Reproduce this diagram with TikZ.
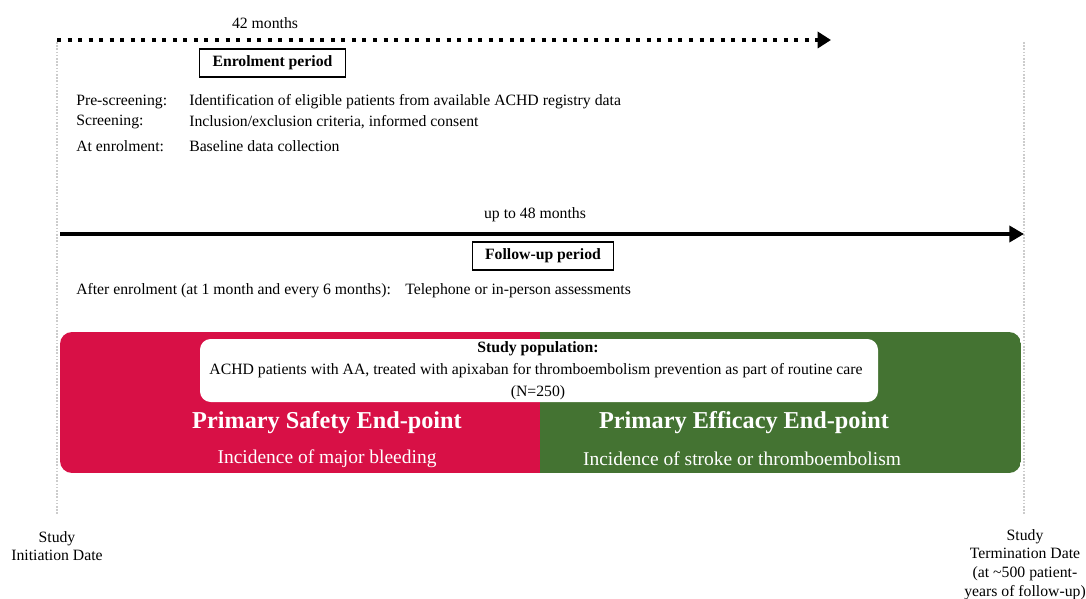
\documentclass[tikz,border=0pt]{standalone}
\usepackage{fontspec}
\setmainfont{Liberation Serif}
\usetikzlibrary{arrows.meta,positioning}

\definecolor{safetyred}{HTML}{D81046}
\definecolor{efficacygreen}{HTML}{447332}

\tikzset{
  body/.style={inner sep=0pt, font=\fontsize{11.8}{13.9}\selectfont},
  leftlbl/.style={body, anchor=west},
  periodbox/.style={draw, line width=0.8pt, inner xsep=9.5pt, minimum height=21pt,
    font=\fontsize{11.8}{13.9}\selectfont\bfseries},
  endtitle/.style={inner sep=0pt, text=white, font=\fontsize{18.2}{21}\selectfont\bfseries},
  endtext/.style={inner sep=0pt, text=white, font=\fontsize{14.6}{17}\selectfont},
  datelbl/.style={body, align=center},
  guide/.style={gray!40, line width=1.6pt, dash pattern=on 1.2pt off 1.2pt},
}

\begin{document}
\begin{tikzpicture}[x=0.75pt, y=-0.75pt]
        \useasboundingbox (0,0) rectangle (1086,599);

        % senkrechte Hilfslinien
        \draw[guide] (57,42) -- (57,515);
        \draw[guide] (1024,42) -- (1024,515);

        % Einschlussphase
        \coordinate (enrolstart) at (57,40);
        \coordinate (enrolend) at (831,40);
        \draw[line width=3pt, dash pattern=on 3pt off 4.9pt,
              -{Triangle[length=10pt,width=12pt]}] (enrolstart) -- (enrolend);
        \node[body] (enrolmonths) at (265,23) {42 months};
        \node[periodbox] (enrolbox) at (272.5,63) {Enrolment period};

        \node[leftlbl] (prescr) at (76,102) {Pre-screening:};
        \node[leftlbl] (scr) at (76,122) {Screening:};
        \node[leftlbl] (atenrol) at (76,146) {At enrolment:};
        \node[leftlbl] (prescrtxt) at (189,102) {Identification of eligible patients from available ACHD registry data};
        \node[leftlbl] (scrtxt) at (189,122) {Inclusion/exclusion criteria, informed consent};
        \node[leftlbl] (atenroltxt) at (189,146) {Baseline data collection};

        % Nachbeobachtung
        \coordinate (followstart) at (60,234);
        \coordinate (followend) at (1024,234);
        \draw[line width=3pt, -{Triangle[length=11pt,width=12pt]}] (followstart) -- (followend);
        \node[body] (followmonths) at (535,215) {up to 48 months};
        \node[periodbox] (followbox) at (543,256) {Follow-up period};
        \node[leftlbl] (after) at (76,291) {After enrolment (at 1 month and every 6 months):};
        \node[leftlbl] (aftertxt) at (405,291) {Telephone or in-person assessments};

        % Endpunkte
        \begin{scope}
          \clip[rounded corners=9pt] (60,332) rectangle (1021,473);
          \fill[safetyred] (60,332) rectangle (540,473);
          \fill[efficacygreen] (540,332) rectangle (1021,473);
        \end{scope}
        \fill[white, rounded corners=8pt] (200,339) rectangle (878,402);
        \node[body, font=\fontsize{11.8}{13.9}\selectfont\bfseries] (pophead) at (538,349) {Study population:};
        \node[body] (poptxt) at (536,371) {ACHD patients with AA, treated with apixaban for thromboembolism prevention as part of routine care};
        \node[body] (popn) at (538,393) {(N=250)};

        \node[endtitle] (safetytitle) at (327,423) {Primary Safety End-point};
        \node[endtext] (safetytxt) at (327,459) {Incidence of major bleeding};
        \node[endtitle] (efficacytitle) at (744,423) {Primary Efficacy End-point};
        \node[endtext] (efficacytxt) at (742,459) {Incidence of stroke or thromboembolism};

        % Daten
        \node[datelbl] (initdate) at (57,546) {Study\\Initiation Date};
        \node[datelbl] (termdate) at (1025,564.5) {Study\\Termination Date\\(at \textasciitilde500 patient-\\years of follow-up)};
    \end{tikzpicture}
\end{document}
